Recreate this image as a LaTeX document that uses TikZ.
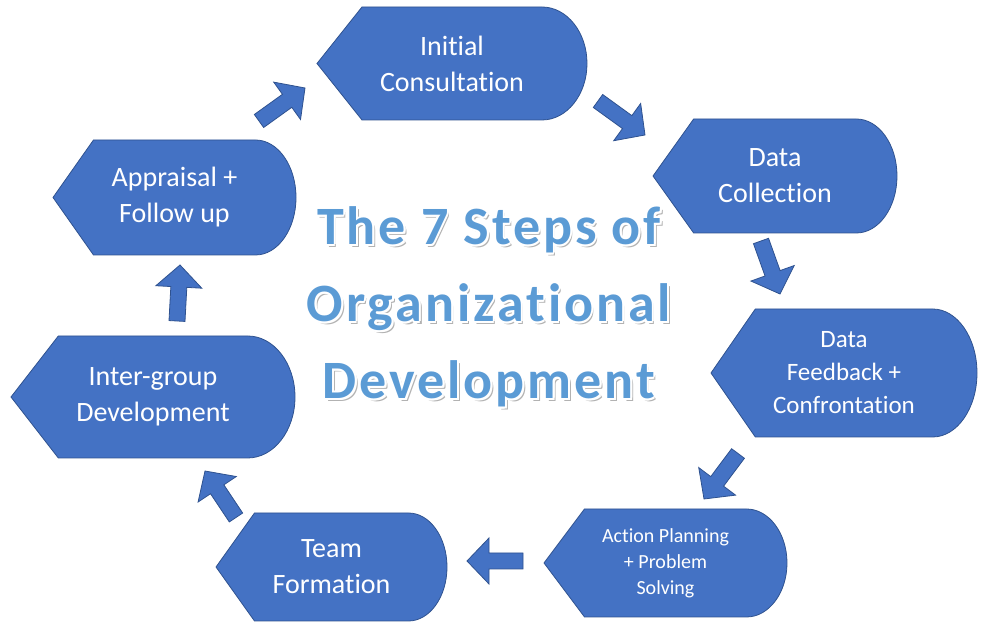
\documentclass[tikz,border=0pt]{standalone}
\usepackage{fontspec}
\setmainfont{Carlito}[Ligatures=NoCommon]
\newfontfamily\titlefont{Carlito}[Ligatures=NoCommon, LetterSpace=5.5]
\usetikzlibrary{calc}

\definecolor{stepblue}{HTML}{4472C4}
\definecolor{stepline}{HTML}{2F528F}
\definecolor{titleblue}{HTML}{5B9BD5}

\tikzstyle{stepfill}=[fill=stepblue, draw=stepline, line width=0.8pt]
\tikzstyle{steptext}=[text=white, align=center, font=\fontsize{28}{36}\selectfont]
\tikzstyle{smalltext}=[font=\fontsize{25}{33}\selectfont]
\tikzstyle{tinytext}=[font=\fontsize{20}{26}\selectfont]
\tikzstyle{titletext}=[align=center, font=\titlefont\bfseries\fontsize{54}{77}\selectfont]

% centre x, centre y, width, height
\newcommand{\stepshape}[4]{%
  \path[stepfill] ({#1-#3/2},#2) -- ++({#3/6},{#4/2}) -- ++({2*#3/3},0)
    arc[start angle=90, end angle=-90, x radius={#3/6}, y radius={#4/2}]
    -- ++({-2*#3/3},0) -- cycle;}

% tail, tip
\newcommand{\blockarrow}[2]{%
  \coordinate (h1) at ($(#2)!22pt!(#1)$);
  \path[stepfill] ($(#1)!8pt!90:(#2)$) -- ($(h1)!8pt!90:(#2)$)
    -- ($(h1)!23pt!90:(#2)$) -- (#2) -- ($(h1)!23pt!-90:(#2)$)
    -- ($(h1)!8pt!-90:(#2)$) -- ($(#1)!8pt!-90:(#2)$) -- cycle;}

\newcommand{\titlewords}{The 7 Steps of\\Organizational\\Development}

\begin{document}
\begin{tikzpicture}[x=1pt,y=1pt]
  \useasboundingbox (0,0) rectangle (989,631);

  % steps
  \stepshape{452}{567.5}{270}{113}
  \node[steptext] at (452,567.5) (init) {Initial\\Consultation};
  \stepshape{775}{455}{244}{114}
  \node[steptext] at (775,455) (coll) {Data\\Collection};
  \stepshape{844}{258}{266}{128}
  \node[steptext,smalltext] at (844,258) (feed) {Data\\Feedback +\\Confrontation};
  \stepshape{665.5}{68}{243}{108}
  \node[steptext,tinytext] at (665.5,68) (act) {Action Planning\\+ Problem\\Solving};
  \stepshape{331.5}{64}{231}{108}
  \node[steptext] at (331.5,64) (team) {Team\\Formation};
  \stepshape{153}{234}{284}{122}
  \node[steptext] at (153,234) (inter) {Inter-group\\Development};
  \stepshape{174.5}{433.5}{243}{115}
  \node[steptext] at (174.5,433.5) (appr) {Appraisal +\\Follow up};

  % arrow ends
  \coordinate (a1s) at (259,510);   \coordinate (a1e) at (305,543);
  \coordinate (a2s) at (598,530);   \coordinate (a2e) at (645,496);
  \coordinate (a3s) at (761,390);   \coordinate (a3e) at (780,337);
  \coordinate (a4s) at (738,177.5); \coordinate (a4e) at (704,132);
  \coordinate (a5s) at (523,70);    \coordinate (a5e) at (467,70);
  \coordinate (a6s) at (236,113.5); \coordinate (a6e) at (205,160);
  \coordinate (a7s) at (177,310);   \coordinate (a7e) at (180,366);
  \foreach \i in {1,...,7} {\blockarrow{a\i s}{a\i e}}

  % title
  \node[titletext, text=black, opacity=0.3] at (491.5,321.5) (shadow) {\titlewords};
  \foreach \a in {0,45,...,315}
    \node[titletext, text=white] at ({489+2*cos(\a)},{324+2*sin(\a)}) (glow\a) {\titlewords};
  \node[titletext, text=titleblue] at (489,324) (title) {\titlewords};
\end{tikzpicture}
\end{document}
